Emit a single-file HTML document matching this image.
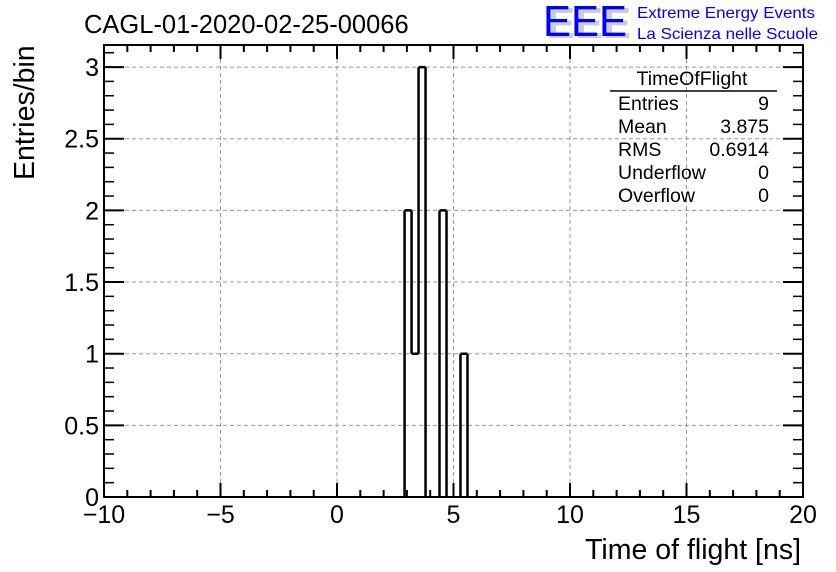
<!DOCTYPE html>
<html><head><meta charset="utf-8"><style>
body{margin:0;background:#fff}
svg{display:block;font-family:"Liberation Sans",sans-serif}
</style></head><body>
<svg id="c" width="836" height="572">
<text x="84" y="33" font-size="25.5">CAGL-01-2020-02-25-00066</text>
<g>
<text x="547" y="38" font-size="44" fill="#ccc" font-weight="bold" textLength="84" lengthAdjust="spacingAndGlyphs">EEE</text>
<text x="543" y="36" font-size="44" fill="#0000ff" textLength="84" lengthAdjust="spacingAndGlyphs">EEE</text>
<text x="637" y="18" font-size="16" fill="#0000ff" textLength="178" lengthAdjust="spacingAndGlyphs">Extreme Energy Events</text>
<text x="637" y="39" font-size="16" fill="#0000ff" textLength="181" lengthAdjust="spacingAndGlyphs">La Scienza nelle Scuole</text>
</g>
<g id="grid"></g><g id="axes"></g><g id="bars"></g>
<rect x="104" y="45" width="699" height="452" fill="none" stroke="#000" stroke-width="2"/>
<g font-size="19.5">
<text x="692" y="85" text-anchor="middle">TimeOfFlight</text>
<line x1="610" y1="91" x2="777" y2="91" stroke="#000" stroke-width="1.5"/>
<text x="618" y="110">Entries</text><text x="769" y="110" text-anchor="end">9</text>
<text x="618" y="133">Mean</text><text x="769" y="133" text-anchor="end">3.875</text>
<text x="618" y="156">RMS</text><text x="769" y="156" text-anchor="end">0.6914</text>
<text x="618" y="179">Underflow</text><text x="769" y="179" text-anchor="end">0</text>
<text x="618" y="202">Overflow</text><text x="769" y="202" text-anchor="end">0</text>
</g>
<text x="801" y="559" font-size="28.5" text-anchor="end">Time of flight [ns]</text>
<text transform="translate(34,180) rotate(-90)" font-size="28.5">Entries/bin</text>
</svg>
<script>
const binStart=-10, binWidth=0.3;
const binIndex=[43,44,45,48,51];
const binCounts=[2,1,3,2,1];
const xTicks=[-10,-5,0,5,10,15,20];
const yTicks=[0,0.5,1,1.5,2,2.5,3];
const X0=104,X1=803,Y0=497,Y1=45,xmin=-10,xmax=20,ymax=3.154;
const sx=v=>X0+(v-xmin)/(xmax-xmin)*(X1-X0);
const sy=v=>Y0-v/ymax*(Y0-Y1);
const NS="http://www.w3.org/2000/svg";
function mk(p,t,a){const e=document.createElementNS(NS,t);for(const k in a)e.setAttribute(k,a[k]);p.appendChild(e);return e;}
const grid=document.getElementById('grid'),axes=document.getElementById('axes'),bars=document.getElementById('bars');
xTicks.forEach(v=>{
 const x=sx(v);
 if(v>xmin&&v<xmax){const l=mk(grid,'line',{x1:x,x2:x,y1:Y1,y2:Y0,stroke:'#999','stroke-dasharray':'4,3'});
 
 }
 mk(axes,'line',{x1:x,x2:x,y1:Y0,y2:Y0-14,stroke:'#000','stroke-width':2});
 mk(axes,'line',{x1:x,x2:x,y1:Y1,y2:Y1+14,stroke:'#000','stroke-width':2});
 const t=mk(axes,'text',{x:x,y:523,'font-size':25,'text-anchor':'middle'});
 t.textContent=v<0?'\u2212'+(-v):String(v);
 
 
});
for(let v=xmin;v<=xmax;v+=1){const x=sx(v);
 mk(axes,'line',{x1:x,x2:x,y1:Y0,y2:Y0-7,stroke:'#000','stroke-width':2});
 mk(axes,'line',{x1:x,x2:x,y1:Y1,y2:Y1+7,stroke:'#000','stroke-width':2});}
yTicks.forEach(v=>{
 const y=sy(v);
 if(v>0){const l=mk(grid,'line',{x1:X0,x2:X1,y1:y,y2:y,stroke:'#999','stroke-dasharray':'4,3'});
 
 }
 mk(axes,'line',{x1:X0,x2:X0+20,y1:y,y2:y,stroke:'#000','stroke-width':2});
 mk(axes,'line',{x1:X1,x2:X1-20,y1:y,y2:y,stroke:'#000','stroke-width':2});
 const t=mk(axes,'text',{x:99,y:y+9,'font-size':25,'text-anchor':'end'});
 t.textContent=String(v);
 
 
});
for(let v=0.1;v<ymax;v+=0.1){const y=sy(v);
 mk(axes,'line',{x1:X0,x2:X0+10,y1:y,y2:y,stroke:'#000','stroke-width':1.5});
 mk(axes,'line',{x1:X1,x2:X1-10,y1:y,y2:y,stroke:'#000','stroke-width':1.5});}
const full=new Array(100).fill(0);
binIndex.forEach((b,i)=>full[b]=binCounts[i]);
let d='',prev=0;
for(let i=0;i<100;i++){
 const c=full[i],xl=sx(binStart+i*binWidth),xr=sx(binStart+(i+1)*binWidth);
 if(c!==prev){d+=`M${xl},${sy(prev)}L${xl},${sy(c)}`;}
 if(c>0)d+=`M${xl},${sy(c)}L${xr},${sy(c)}`;
 prev=c;
}
const p=mk(bars,'path',{d:d,fill:'none',stroke:'#000','stroke-width':2.5});


</script>
</body></html>
